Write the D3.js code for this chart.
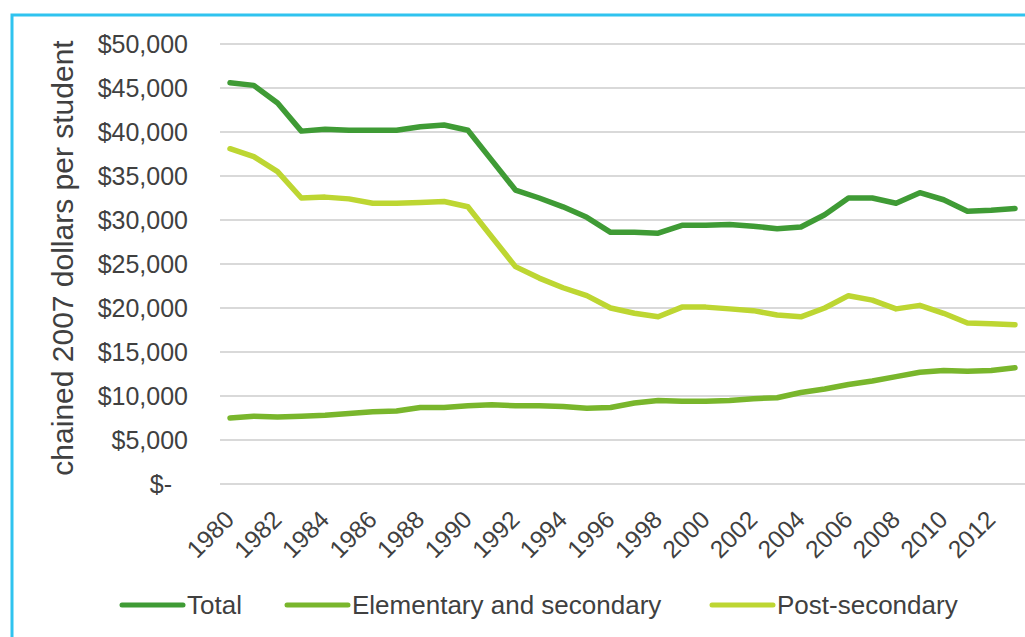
<!DOCTYPE html>
<html>
<head>
<meta charset="utf-8">
<script src="https://cdn.jsdelivr.net/npm/d3@7"></script>
<style>
  html, body { margin: 0; padding: 0; background: #fff; }
  svg { display: block; }
  text { font-family: "Liberation Sans", Arial, sans-serif; fill: #404040; }
</style>
</head>
<body>
<svg id="chart" width="1025" height="637"></svg>
<script>
const years = d3.range(1980, 2014);
const yearLabels = ["1980","1982","1984","1986","1988","1990","1992","1994","1996","1998","2000","2002","2004","2006","2008","2010","2012"];
const total = [45600,45300,43300,40100,40300,40200,40200,40200,40600,40800,40200,36800,33400,32500,31500,30300,28600,28600,28500,29400,29400,29500,29300,29000,29200,30600,32500,32500,31900,33100,32300,31000,31100,31300];
const elementary = [7500,7700,7600,7700,7800,8000,8200,8300,8700,8700,8900,9000,8900,8900,8800,8600,8700,9200,9500,9400,9400,9500,9700,9800,10400,10800,11300,11700,12200,12700,12900,12800,12900,13200];
const postSecondary = [38100,37200,35500,32500,32600,32400,31900,31900,32000,32100,31500,28100,24700,23400,22300,21400,20000,19400,19000,20100,20100,19900,19700,19200,19000,20000,21400,20900,19900,20300,19400,18300,18200,18100];
const yTicks = [0,5000,10000,15000,20000,25000,30000,35000,40000,45000,50000];
const seriesNames = ["Total","Elementary and secondary","Post-secondary"];
const seriesColors = ["#3f9b35","#79b62c","#bdd632"];

const svg = d3.select("#chart");

// frame border
svg.append("path")
  .attr("d", "M12,640 L12,15 L1030,15")
  .attr("fill", "none").attr("stroke", "#2fc3ef").attr("stroke-width", 3);

const x = d3.scalePoint().domain(years).range([230, 1015]);
const y = d3.scaleLinear().domain([0, 50000]).range([484, 44]);

// gridlines
svg.append("g").selectAll("line").data(yTicks).join("line")
  .attr("x1", 220).attr("x2", 1027)
  .attr("y1", d => y(d)).attr("y2", d => y(d))
  .attr("stroke", "#d9d9d9").attr("stroke-width", 2);

// y axis labels
const yAxis = d3.axisLeft(y).tickValues(yTicks).tickSize(0).tickPadding(0)
  .tickFormat(d => d === 0 ? "$-" : "$" + d3.format(",")(d));
const gy = svg.append("g").attr("transform", "translate(188,0)").call(yAxis);
gy.select(".domain").remove();
gy.selectAll("text").style("font-size", "25px").attr("fill", "#404040")
  .attr("font-family", '"Liberation Sans", Arial, sans-serif')
  .attr("dy", "0.35em")
  .attr("x", d => d === 0 ? -16 : 0);

// x axis labels
const xAxis = d3.axisBottom(x).tickValues(yearLabels.map(Number)).tickSize(0).tickFormat(d => String(d));
const gx = svg.append("g").attr("transform", "translate(0,484)").call(xAxis);
gx.select(".domain").remove();
gx.selectAll("text")
  .style("font-size", "24.5px").attr("fill", "#404040")
  .attr("font-family", '"Liberation Sans", Arial, sans-serif')
  .attr("text-anchor", "end")
  .attr("dy", "0.35em").attr("y", 0)
  .attr("transform", "translate(-1,31) rotate(-45)");

// y title
svg.append("text")
  .attr("transform", "translate(73,258) rotate(-90)")
  .attr("text-anchor", "middle")
  .style("font-size", "30px")
  .text("chained 2007 dollars per student");

// lines
const data = [total, elementary, postSecondary];
const line = d3.line().x((d, i) => x(years[i])).y(d => y(d));
svg.append("g").selectAll("path").data(data).join("path")
  .attr("d", d => line(d))
  .attr("fill", "none")
  .attr("stroke", (d, i) => seriesColors[i])
  .attr("stroke-width", 5.5)
  .attr("stroke-linejoin", "round").attr("stroke-linecap", "round");

// legend
const legendX = [122, 287, 712];
const lg = svg.append("g").selectAll("g").data(seriesNames).join("g")
  .attr("transform", (d, i) => `translate(${legendX[i]},605)`);
lg.append("line").attr("x1", 0).attr("x2", 61).attr("y1", 0).attr("y2", 0)
  .attr("stroke", (d, i) => seriesColors[i]).attr("stroke-width", 5).attr("stroke-linecap", "round");
lg.append("text").attr("x", 65).attr("dy", "0.36em").style("font-size", "26px").text(d => d);
</script>
</body>
</html>
